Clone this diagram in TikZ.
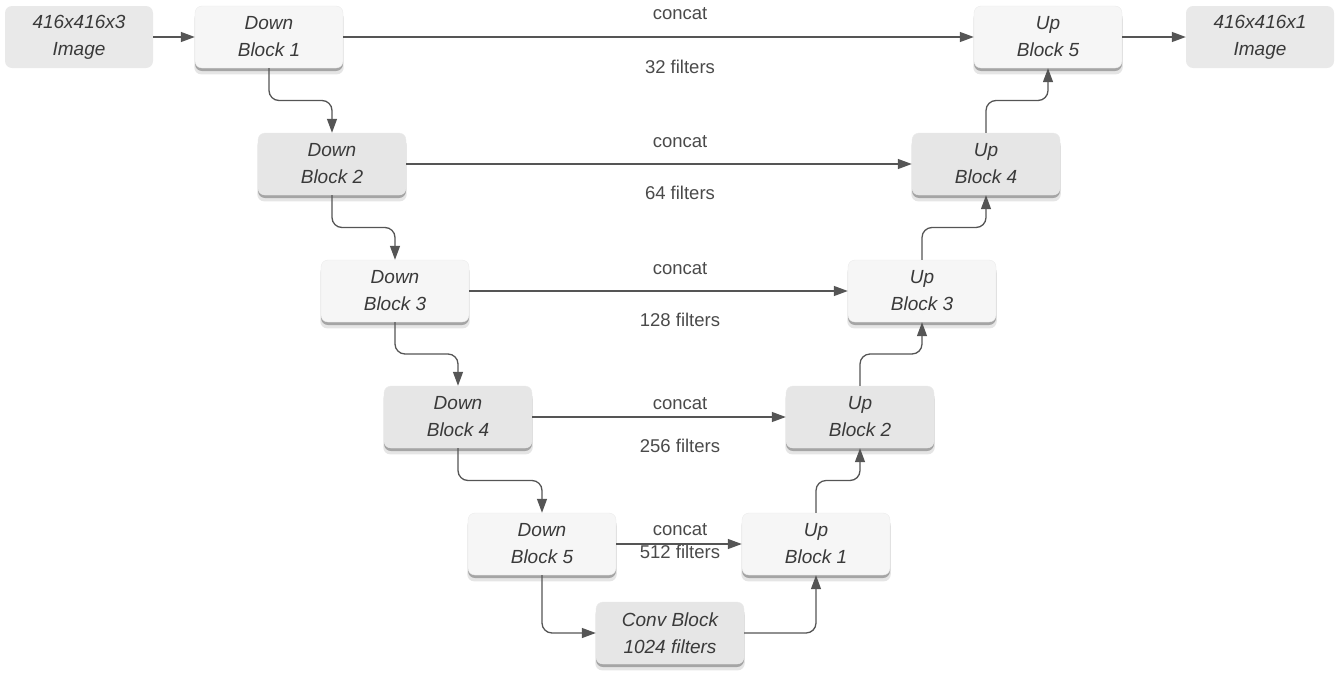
\documentclass[tikz,border=0pt]{standalone}
\usepackage{fontspec}
\setmainfont{Liberation Sans}
\usetikzlibrary{shadows,calc,arrows.meta}
\definecolor{boxlight}{HTML}{F6F6F6}
\definecolor{boxdark}{HTML}{E6E6E6}
\definecolor{imgfill}{HTML}{E9E9E9}
\definecolor{boxtext}{HTML}{3A3A3A}
\definecolor{labtext}{HTML}{4A4A4A}
\definecolor{linecol}{HTML}{555555}
\begin{document}
\begin{tikzpicture}[x=1pt,y=-1pt,
  base/.style={rounded corners=7pt, minimum width=148pt, minimum height=62pt, inner sep=0pt,
    align=center, text=boxtext, font=\fontsize{19}{27}\selectfont\itshape},
  shad/.style={drop shadow={shadow xshift=0pt, shadow yshift=-3pt, opacity=.28, fill=black},
    drop shadow={shadow xshift=0pt, shadow yshift=-6pt, opacity=.10, fill=black, shadow scale=1.01}},
  lightbox/.style={base, shad, fill=boxlight, draw=black!8, line width=.4pt},
  darkbox/.style={base, shad, fill=boxdark, draw=black!8, line width=.4pt},
  imgbox/.style={base, fill=imgfill},
  conn/.style={draw=linecol, line width=1.3pt, -{Triangle[length=14pt,width=10pt]}, rounded corners=10pt},
  lab/.style={text=labtext, font=\fontsize{18.5}{22}\selectfont}
]
\useasboundingbox (0,0) rectangle (1340,675);
\node[imgbox]   (in)  at (79,37)   {416x416x3\\Image};
\node[lightbox] (d1)  at (269,37)  {Down\\Block 1};
\node[darkbox]  (d2)  at (332,164) {Down\\Block 2};
\node[lightbox] (d3)  at (395,291) {Down\\Block 3};
\node[darkbox]  (d4)  at (458,417) {Down\\Block 4};
\node[lightbox] (d5)  at (542,544) {Down\\Block 5};
\node[darkbox]  (cv)  at (670,633) {Conv Block\\1024 filters};
\node[lightbox] (u1)  at (816,544) {Up\\Block 1};
\node[darkbox]  (u2)  at (860,417) {Up\\Block 2};
\node[lightbox] (u3)  at (922,291) {Up\\Block 3};
\node[darkbox]  (u4)  at (986,164) {Up\\Block 4};
\node[lightbox] (u5)  at (1048,37) {Up\\Block 5};
\node[imgbox]   (out) at (1260,37) {416x416x1\\Image};

\node[lab] (c1) at (680,14)  {concat};
\node[lab] (f1) at (680,67)  {32 filters};
\node[lab] (c2) at (680,142) {concat};
\node[lab] (f2) at (680,193) {64 filters};
\node[lab] (c3) at (680,269) {concat};
\node[lab] (f3) at (680,320) {128 filters};
\node[lab] (c4) at (680,404) {concat};
\node[lab] (f4) at (680,446) {256 filters};
\node[lab] (c5) at (680,530) {concat};
\node[lab] (f5) at (680,552) {512 filters};

\draw[conn] (in) -- (d1);
\draw[conn] (d1) -- (u5);
\draw[conn] (u5) -- (out);
\draw[conn] (d2) -- (u4);
\draw[conn] (d3) -- (u3);
\draw[conn] (d4) -- (u2);
\draw[conn] (d5) -- (u1);

\foreach \a/\b in {d1/d2,d2/d3,d3/d4,d4/d5}{
  \coordinate (m) at ($(\a.south)!.5!(\b.north)$);
  \draw[conn] (\a.south) -- (\a.south |- m) -- (\b.north |- m) -- (\b.north);
}
\foreach \a/\b in {u1/u2,u2/u3,u3/u4,u4/u5}{
  \coordinate (m) at ($(\a.north)!.5!(\b.south)$);
  \draw[conn] (\a.north) -- (\a.north |- m) -- (\b.south |- m) -- (\b.south);
}
\draw[conn] (d5.south) |- (cv.west);
\draw[conn] (cv.east) -| (u1.south);
\end{tikzpicture}
\end{document}
